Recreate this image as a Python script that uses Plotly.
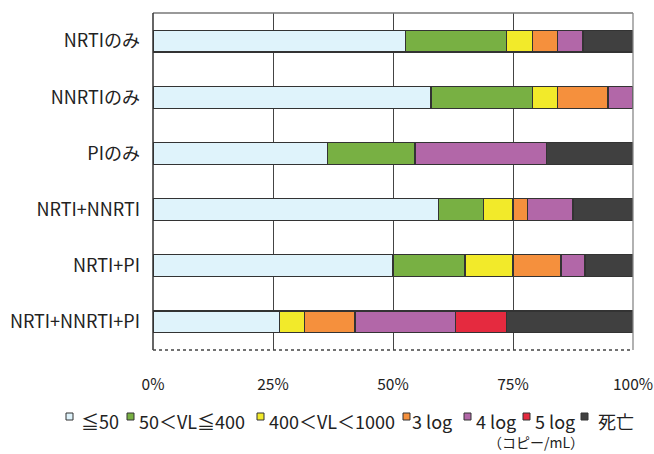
import plotly.graph_objects as go

categories = ["NRTIのみ", "NNRTIのみ", "PIのみ", "NRTI+NNRTI", "NRTI+PI", "NRTI+NNRTI+PI"]
series_names = ["≦50", "50＜VL≦400", "400＜VL＜1000", "3 log", "4 log", "5 log", "死亡"]
colors = ["#dff3fb", "#78b043", "#f2ea2a", "#f5903d", "#b267a8", "#e52a3f", "#404040"]

le50 = [52.6, 57.9, 36.4, 59.4, 50.0, 26.3]
vl50_400 = [21.1, 21.1, 18.2, 9.4, 15.0, None]
vl400_1000 = [5.3, 5.3, None, 6.2, 10.0, 5.3]
log3 = [5.3, 10.5, None, 3.1, 10.0, 10.5]
log4 = [5.3, 5.2, 27.3, 9.4, 5.0, 21.0]
log5 = [None, None, None, None, None, 10.5]
death = [10.4, None, 18.1, 12.5, 10.0, 26.4]

x_ticks = [0, 25, 50, 75, 100]
x_tick_labels = ["0%", "25%", "50%", "75%", "100%"]

series_values = [le50, vl50_400, vl400_1000, log3, log4, log5, death]

FONT = "Noto Sans CJK JP"
fig = go.Figure()
for name, vals, col in zip(series_names, series_values, colors):
    fig.add_trace(go.Bar(
        y=categories, x=vals, name=name, orientation="h",
        marker=dict(color=col, line=dict(color="#333333", width=1.2)),
        width=0.39, showlegend=False,
    ))

W, H = 654, 454
L, R, T, B = 153, 633, 13, 350

fig.update_layout(
    width=W, height=H, barmode="stack",
    margin=dict(l=L, r=W - R, t=T, b=H - B, autoexpand=False),
    paper_bgcolor="white", plot_bgcolor="white",
    font=dict(family=FONT, color="#222222"),
    xaxis=dict(range=[0, 100], tickvals=x_ticks, ticktext=x_tick_labels,
               showgrid=True, gridcolor="#444444", gridwidth=1.3,
               zeroline=False, showline=False, ticks="", automargin=False,
               ticklabelstandoff=23, tickfont=dict(size=15.5, family=FONT, color="#222222")),
    yaxis=dict(categoryorder="array", categoryarray=categories, autorange="reversed",
               showgrid=False, zeroline=False, showline=False, ticks="", automargin=False,
               ticklabelstandoff=12, tickfont=dict(size=18, family=FONT, color="#222222")),
)

# plot frame
fig.add_shape(type="line", xref="paper", yref="paper", x0=0, x1=1, y0=1, y1=1,
              line=dict(color="#777777", width=1.3))
fig.add_shape(type="line", xref="paper", yref="paper", x0=0, x1=0, y0=0, y1=1,
              line=dict(color="#333333", width=1.5))
fig.add_shape(type="line", xref="paper", yref="paper", x0=1, x1=1, y0=0, y1=1,
              line=dict(color="#888888", width=1.3))
fig.add_shape(type="line", xref="paper", yref="paper", x0=0, x1=1, y0=0, y1=0,
              line=dict(color="#444444", width=1.3, dash="dot"))

# custom legend
def px_x(x):
    return (x - L) / (R - L)

def px_y(y):
    return (B - y) / (B - T)

sq_left = [66, 127, 257, 403, 464, 523, 581]
txt_left = [79, 137, 267, 410, 474, 533, 596]
sq_top, sq_bot = 413, 420
for i, (name, col) in enumerate(zip(series_names, colors)):
    fig.add_shape(type="rect", xref="paper", yref="paper",
                  x0=px_x(sq_left[i]), x1=px_x(sq_left[i] + 7),
                  y0=px_y(sq_bot), y1=px_y(sq_top),
                  fillcolor=col, line=dict(color="#333333", width=1))
    fig.add_annotation(xref="paper", yref="paper", x=px_x(txt_left[i]), y=px_y(420.5),
                       text=name, showarrow=False, xanchor="left", yanchor="middle",
                       font=dict(size=18, family=FONT, color="#222222"))

fig.add_annotation(xref="paper", yref="paper", x=px_x(536), y=px_y(442),
                   text="（コピー/mL）", showarrow=False, xanchor="center", yanchor="middle",
                   font=dict(size=14, family=FONT, color="#222222"))

fig.write_html("out.html")
